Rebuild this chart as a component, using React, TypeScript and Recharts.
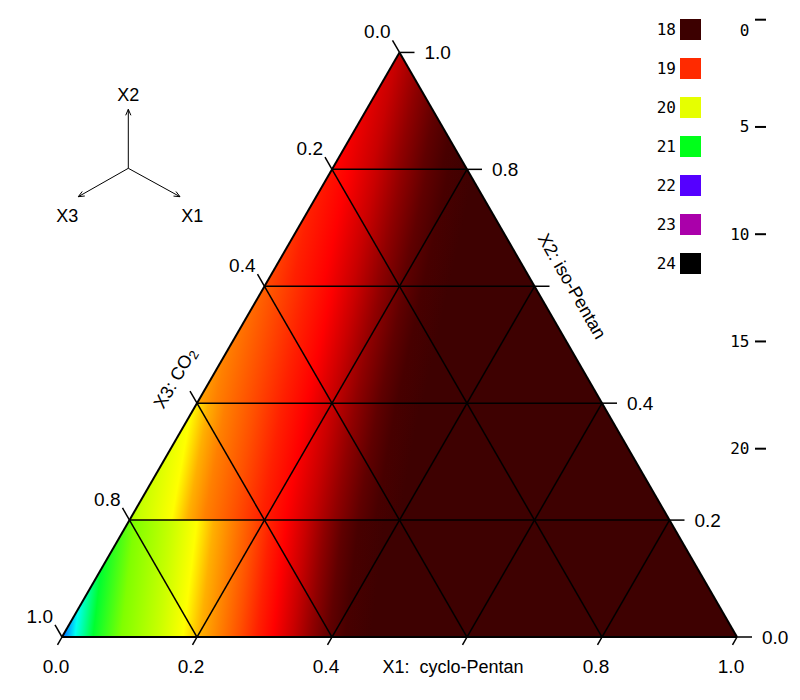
import React from 'react';
import { ComposedChart, XAxis, YAxis, Area, Scatter, ReferenceLine, Legend } from 'recharts';

// ---------------- data ----------------
const gridValues = [0.2, 0.4, 0.6, 0.8];
const tickValues = [0, 0.2, 0.4, 0.6, 0.8, 1.0];
const tickLabels = ['0.0', '0.2', '0.4', '0.6', '0.8', '1.0'];
const titleValue = 0.6;
const x1Title = 'X1:  cyclo-Pentan';
const x2Title = 'X2: iso-Pentan';
const x3TitleMain = 'X3: CO';
const x3TitleSub = '2';
const rowBounds = [0, 0.2, 0.4, 0.6, 0.8, 1.0];
const legendValues = ['18', '19', '20', '21', '22', '23', '24'];
const legendColors = ['#3c0000', '#ff2a00', '#e6ff00', '#00ff1a', '#5500ff', '#aa00aa', '#000000'];
const scaleTicks = [0, 5, 10, 15, 20];
const insetLabels = ['X1', 'X2', 'X3'];

// ---------------- layout / style ----------------
const W = 800;
const H = 700;
const LEFT = 62;
const PLOT_W = 675;
const RIGHT_AXIS_W = 60;
const BASE_Y = 637;
const SQ3 = Math.sqrt(3) / 2;
const FONT = '"Liberation Sans", Arial, sans-serif';
const MONO = '"DejaVu Sans Mono", monospace';
const DARK = '#3e0101';

const Y_DOMAIN: [number, number] = [(BASE_Y - H) / PLOT_W, BASE_Y / PLOT_W];
const SCALE_ZERO_PX = 19.7;
const SCALE_PX_PER_UNIT = 21.45;
const V_DOMAIN: [number, number] = [-SCALE_ZERO_PX / SCALE_PX_PER_UNIT, (H - SCALE_ZERO_PX) / SCALE_PX_PER_UNIT];

// colour ramp per horizontal band (x pixel at band centre, colour), plus tilt of iso-colour lines
const ROW_STYLE: { slope: number; stops: [number, string][] }[] = [
  {
    slope: 0.12,
    stops: [[66, '#0040ff'], [74, '#00a0ff'], [82, '#00fff0'], [100, '#00ff30'], [128, '#80ff00'], [165, '#c8ff00'],
      [190, '#ffff00'], [207, '#ffb000'], [226, '#ff8000'], [246, '#ff5000'], [264, '#ff2000'], [280, '#ff0000'],
      [300, '#c80000'], [318, '#900000'], [336, '#600000'], [352, '#480000'], [378, DARK]],
  },
  {
    slope: 0.18,
    stops: [[120, '#80ff00'], [150, '#c8ff00'], [182, '#ffff00'], [198, '#ffb000'], [215, '#ff8000'], [245, '#ff5000'],
      [272, '#ff2000'], [296, '#ff0000'], [322, '#c80000'], [345, '#900000'], [368, '#600000'], [386, '#480000'], [410, DARK]],
  },
  {
    slope: 0.22,
    stops: [[170, '#ffff00'], [205, '#ffb000'], [228, '#ff8000'], [262, '#ff5000'], [295, '#ff2000'], [320, '#ff0000'],
      [345, '#c80000'], [368, '#900000'], [392, '#600000'], [410, '#480000'], [436, DARK]],
  },
  {
    slope: 0.22,
    stops: [[255, '#ff8000'], [275, '#ff5000'], [305, '#ff2000'], [336, '#ff0000'], [365, '#c80000'], [390, '#900000'],
      [415, '#600000'], [436, '#480000'], [462, DARK]],
  },
  {
    slope: 0.22,
    stops: [[322, '#ff2000'], [350, '#ff0000'], [385, '#c80000'], [410, '#900000'], [435, '#600000'], [455, '#480000'], [480, DARK]],
  },
];

// ---------------- helpers ----------------
const tern = (x1: number, x2: number) => ({ x: x1 + x2 / 2, y: x2 * SQ3 });
const pyOf = (v: number) => BASE_Y - v * PLOT_W;

const stripData = (a: number, b: number) => {
  const ya = a * SQ3;
  const yb = b * SQ3;
  const pts: { x: number; r: [number, number] }[] = [
    { x: a / 2, r: [ya, ya] },
    { x: b / 2, r: [ya, yb] },
  ];
  if (b < 1) pts.push({ x: 1 - b / 2, r: [ya, yb] });
  pts.push({ x: 1 - a / 2, r: [ya, ya] });
  return pts;
};

const gridSegments: { a: { x: number; y: number }; b: { x: number; y: number } }[] = [];
gridValues.forEach((c) => {
  gridSegments.push({ a: tern(0, c), b: tern(1 - c, c) }); // X2 = c
  gridSegments.push({ a: tern(c, 0), b: tern(c, 1 - c) }); // X1 = c
  gridSegments.push({ a: tern(0, 1 - c), b: tern(1 - c, 0) }); // X3 = c
});
const outline = [
  { a: tern(0, 0), b: tern(1, 0) },
  { a: tern(1, 0), b: tern(0, 1) },
  { a: tern(0, 1), b: tern(0, 0) },
];

const bottomLabels = tickValues.map((c, i) => ({
  ...tern(c, 0),
  text: c === titleValue ? x1Title : tickLabels[i],
  title: c === titleValue,
}));
const rightLabels = tickValues.map((c, i) => ({
  ...tern(1 - c, c),
  text: c === titleValue ? x2Title : tickLabels[i],
  title: c === titleValue,
}));
const leftLabels = tickValues.map((c, i) => ({
  ...tern(0, 1 - c),
  text: tickLabels[i],
  title: c === titleValue,
}));

// ---------------- shapes ----------------
const BottomLabel = (p: any) => {
  const { cx, cy, payload } = p;
  return (
    <g>
      <line x1={cx} y1={cy} x2={cx - 4.5} y2={cy + 7.8} stroke="#000" strokeWidth={1.5} />
      <text
        x={payload.title ? cx - 14 : cx - 6}
        y={cy + 35.5}
        textAnchor="middle"
        fontFamily={FONT}
        fontSize={payload.title ? 18 : 19}
        fill="#000"
        style={{ whiteSpace: 'pre' }}
      >
        {payload.text}
      </text>
    </g>
  );
};

const RightLabel = (p: any) => {
  const { cx, cy, payload } = p;
  return (
    <g>
      <line x1={cx} y1={cy} x2={cx + 15} y2={cy} stroke="#000" strokeWidth={1.5} />
      {payload.title ? (
        <text
          x={cx + 37.5}
          y={cy}
          transform={`rotate(60 ${cx + 37.5} ${cy})`}
          textAnchor="middle"
          dominantBaseline="central"
          fontFamily={FONT}
          fontSize={18}
          fill="#000"
        >
          {payload.text}
        </text>
      ) : (
        <text x={cx + 25} y={cy + 7} textAnchor="start" fontFamily={FONT} fontSize={19} fill="#000">
          {payload.text}
        </text>
      )}
    </g>
  );
};

const LeftLabel = (p: any) => {
  const { cx, cy, payload } = p;
  const ex = cx - 7;
  const ey = cy - 12.1;
  return (
    <g>
      <line x1={cx} y1={cy} x2={ex} y2={ey} stroke="#000" strokeWidth={1.5} />
      {payload.title ? (
        <text
          x={cx - 22}
          y={cy - 25}
          transform={`rotate(-60 ${cx - 22} ${cy - 25})`}
          textAnchor="middle"
          dominantBaseline="central"
          fontFamily={FONT}
          fontSize={18}
          fill="#000"
        >
          {x3TitleMain}
          <tspan fontSize={13} dy={4}>{x3TitleSub}</tspan>
        </text>
      ) : (
        <text x={ex - 2} y={ey - 2} textAnchor="end" fontFamily={FONT} fontSize={19} fill="#000">
          {payload.text}
        </text>
      )}
    </g>
  );
};

const ScaleTick = (p: any) => {
  const { x, y, payload } = p;
  const ly = payload.value === 0 ? y + 10.5 : y;
  return (
    <g>
      <text x={x + 12.5} y={ly} textAnchor="end" dominantBaseline="central" fontFamily={MONO} fontSize={16} fill="#000">
        {payload.value}
      </text>
      <line x1={x + 18} x2={x + 29} y1={y} y2={y} stroke="#000" strokeWidth={2} />
    </g>
  );
};

const Arrow = ({ cx, cy, dx, dy }: { cx: number; cy: number; dx: number; dy: number }) => {
  const len = Math.hypot(dx, dy);
  const ux = dx / len;
  const uy = dy / len;
  const tx = cx + dx;
  const ty = cy + dy;
  const back = 6;
  const half = 2.6;
  return (
    <g stroke="#000" strokeWidth={1} fill="none">
      <line x1={cx} y1={cy} x2={tx} y2={ty} />
      <polyline
        points={`${tx - ux * back - uy * half},${ty - uy * back + ux * half} ${tx},${ty} ${tx - ux * back + uy * half},${ty - uy * back - ux * half}`}
      />
    </g>
  );
};

const Overlay = () => {
  const cx = 128.3;
  const cy = 168.3;
  return (
    <div style={{ position: 'relative', width: 0, height: 0 }}>
      <svg
        width={W}
        height={H}
        style={{ position: 'absolute', left: 0, top: 0, overflow: 'visible', pointerEvents: 'none' }}
      >
        {legendValues.map((v, i) => {
          const yc = 29.5 + i * 39;
          return (
            <g key={v}>
              <rect x={680} y={yc - 10.5} width={21} height={21} fill={legendColors[i]} />
              <text x={676} y={yc} textAnchor="end" dominantBaseline="central" fontFamily={MONO} fontSize={16} fill="#000">
                {v}
              </text>
            </g>
          );
        })}
        <Arrow cx={cx} cy={cy} dx={0} dy={-59} />
        <Arrow cx={cx} cy={cy} dx={51.7} dy={28.4} />
        <Arrow cx={cx} cy={cy} dx={-50} dy={28.4} />
        <text x={cx + 64} y={222} textAnchor="middle" fontFamily={FONT} fontSize={18} fill="#000">{insetLabels[0]}</text>
        <text x={cx} y={100.5} textAnchor="middle" fontFamily={FONT} fontSize={18} fill="#000">{insetLabels[1]}</text>
        <text x={cx - 61} y={222} textAnchor="middle" fontFamily={FONT} fontSize={18} fill="#000">{insetLabels[2]}</text>
      </svg>
    </div>
  );
};

export default function App() {
  return (
    <div style={{ position: 'absolute', left: 0, top: 0, width: W, height: H, background: '#fff' }}>
      <ComposedChart width={W} height={H} margin={{ top: 0, right: W - LEFT - PLOT_W - RIGHT_AXIS_W, bottom: 0, left: LEFT }}>
        <defs>
          {ROW_STYLE.map((row, i) => {
            const yc = pyOf(((rowBounds[i] + rowBounds[i + 1]) / 2) * SQ3);
            const D = PLOT_W / (1 + row.slope * row.slope);
            return (
              <linearGradient
                key={i}
                id={`row${i}`}
                gradientUnits="userSpaceOnUse"
                x1={LEFT}
                y1={yc}
                x2={LEFT + D}
                y2={yc + row.slope * D}
              >
                {row.stops.map(([x, c], j) => (
                  <stop key={j} offset={Math.min(1, Math.max(0, (x - LEFT) / PLOT_W))} stopColor={c} />
                ))}
              </linearGradient>
            );
          })}
        </defs>
        <XAxis xAxisId="t" dataKey="x" type="number" domain={[0, 1]} hide />
        <YAxis yAxisId="t" dataKey="y" type="number" domain={Y_DOMAIN} hide />
        <YAxis
          yAxisId="v"
          orientation="right"
          type="number"
          width={RIGHT_AXIS_W}
          domain={V_DOMAIN}
          allowDataOverflow
          reversed
          ticks={scaleTicks}
          interval={0}
          axisLine={false}
          tickLine={false}
          tickSize={0}
          tickMargin={0}
          tick={<ScaleTick />}
        />
        {rowBounds.slice(0, -1).map((a, i) => (
          <Area
            key={`s${i}`}
            xAxisId="t"
            yAxisId="t"
            data={stripData(a, rowBounds[i + 1])}
            dataKey="r"
            type="linear"
            stroke="none"
            fill={`url(#row${i})`}
            fillOpacity={1}
            dot={false}
            activeDot={false}
            isAnimationActive={false}
          />
        ))}
        {gridSegments.map((s, i) => (
          <ReferenceLine
            key={`g${i}`}
            xAxisId="t"
            yAxisId="t"
            segment={[s.a, s.b]}
            stroke="#000"
            strokeWidth={1.5}
            ifOverflow="visible"
          />
        ))}
        {outline.map((s, i) => (
          <ReferenceLine
            key={`o${i}`}
            xAxisId="t"
            yAxisId="t"
            segment={[s.a, s.b]}
            stroke="#000"
            strokeWidth={2}
            ifOverflow="visible"
          />
        ))}
        <Scatter xAxisId="t" yAxisId="t" data={bottomLabels} dataKey="y" shape={BottomLabel} isAnimationActive={false} />
        <Scatter xAxisId="t" yAxisId="t" data={rightLabels} dataKey="y" shape={RightLabel} isAnimationActive={false} />
        <Scatter xAxisId="t" yAxisId="t" data={leftLabels} dataKey="y" shape={LeftLabel} isAnimationActive={false} />
        <Legend
          content={<Overlay />}
          wrapperStyle={{ position: 'absolute', left: 0, top: 0, width: 0, height: 0, margin: 0, padding: 0 }}
        />
      </ComposedChart>
    </div>
  );
}
